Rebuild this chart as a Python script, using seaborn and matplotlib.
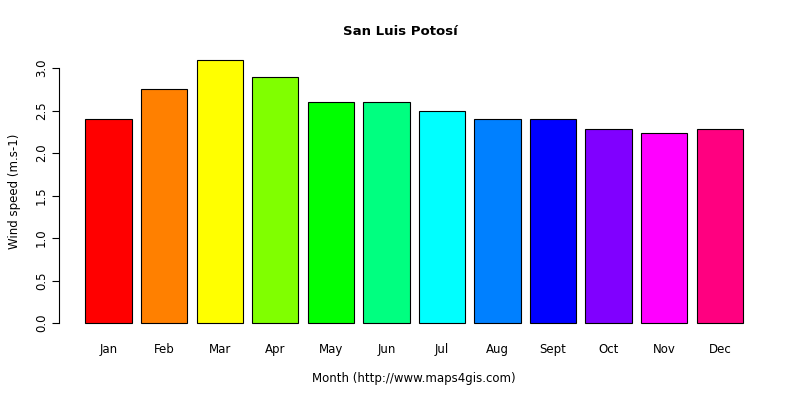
import matplotlib
matplotlib.use("Agg")
import matplotlib.pyplot as plt
import seaborn as sns
import pandas as pd

months = ["Jan","Feb","Mar","Apr","May","Jun","Jul","Aug","Sept","Oct","Nov","Dec"]
wind = [2.4, 2.75, 3.1, 2.9, 2.6, 2.6, 2.5, 2.4, 2.4, 2.28, 2.24, 2.28]
colors = ["#FF0000","#FF8000","#FFFF00","#80FF00","#00FF00","#00FF80",
          "#00FFFF","#0080FF","#0000FF","#8000FF","#FF00FF","#FF0080"]

sns.set_style("white")
plt.rcParams['font.family'] = ['DejaVu Sans']
plt.rcParams['text.color'] = 'black'
plt.rcParams['axes.labelcolor'] = 'black'
plt.rcParams['xtick.color'] = 'black'
plt.rcParams['ytick.color'] = 'black'
df = pd.DataFrame({"month": months, "wind": wind})

fig = plt.figure(figsize=(8, 4), dpi=100)
ax = fig.add_axes([0.074, 0.166, 0.8875, 0.7115])
sns.barplot(data=df, x="month", y="wind", hue="month", palette=colors,
            legend=False, width=1/1.2, edgecolor="black", linewidth=0.8,
            saturation=1, ax=ax)
ax.set_xlim(-0.89, 11.89)
ax.set_ylim(-0.124, 3.224)
for s in ["top", "right", "bottom"]:
    ax.spines[s].set_visible(False)
ax.spines["left"].set_bounds(0, 3)
ax.spines["left"].set_color("black")
ax.set_yticks([0, 0.5, 1, 1.5, 2, 2.5, 3])
ax.set_yticklabels(["0.0","0.5","1.0","1.5","2.0","2.5","3.0"], rotation=90, va="center")
ax.tick_params(axis="y", length=5, width=0.8, color="black", left=True, labelsize=8.5, pad=3)
ax.tick_params(axis="x", length=0, labelsize=8.5, pad=7)
ax.set_xlabel("Month (http://www.maps4gis.com)", fontsize=8.5, labelpad=11)
ax.set_ylabel("Wind speed (m.s-1)", fontsize=8.5, labelpad=10)
fig.text(0.5, 0.922, "San Luis Potosí", ha="center", va="center", fontsize=9.5, fontweight="bold")
fig.savefig("out.png", dpi=100, facecolor="white")
